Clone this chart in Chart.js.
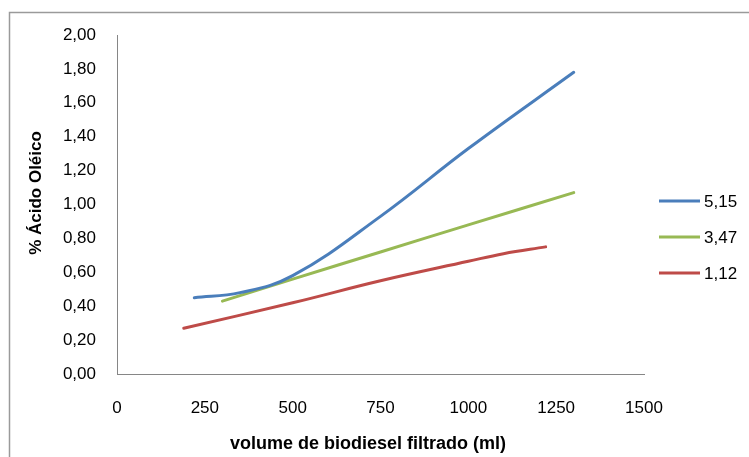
<!DOCTYPE html>
<html>
<head>
<meta charset="utf-8">
<script src="https://cdn.jsdelivr.net/npm/chart.js@4"></script>
<style>
  html, body { margin: 0; padding: 0; background: #fff; }
  #wrap { position: relative; width: 749px; height: 457px; }
</style>
</head>
<body>
<div id="wrap"><canvas id="chart" width="749" height="457"></canvas></div>
<script>
// series
const seriesLabels = ['5,15', '3,47', '1,12'];
const seriesColors = ['#4a7ebb', '#98b954', '#be4b48'];

const blueX = [220, 350, 500, 750, 1000, 1300];
const blueY = [0.45, 0.48, 0.58, 0.93, 1.33, 1.78];

const greenX = [300, 500, 750, 1000, 1300];
const greenY = [0.43, 0.56, 0.72, 0.88, 1.07];

const redX = [190, 500, 750, 1000, 1100, 1220];
const redY = [0.27, 0.42, 0.55, 0.665, 0.71, 0.75];

const xTicks = [0, 250, 500, 750, 1000, 1250, 1500];
const yTicks = [0, 0.2, 0.4, 0.6, 0.8, 1.0, 1.2, 1.4, 1.6, 1.8, 2.0];

const xTitle = 'volume de biodiesel filtrado (ml)';
const yTitle = '% Ácido Oléico';

const FONT = "'Liberation Sans', Arial, sans-serif";

function pts(xs, ys) {
    return xs.map((x, i) => ({ x: x, y: ys[i] }));
}

const allX = [blueX, greenX, redX];
const allY = [blueY, greenY, redY];

const datasets = seriesLabels.map((label, i) => ({
    label: label,
    data: pts(allX[i], allY[i]),
    borderColor: seriesColors[i],
    backgroundColor: seriesColors[i],
    borderWidth: 3,
    showLine: true,
    pointRadius: 0,
    tension: 0.4,
    borderCapStyle: 'round'
}));

// outer frame, axis titles and legend placed by hand where Excel put them
const framePlugin = {
    id: 'frame',
    beforeDraw(chart) {
        const ctx = chart.ctx;
        ctx.save();
        ctx.fillStyle = '#fff';
        ctx.fillRect(0, 0, chart.width, chart.height);
        ctx.strokeStyle = '#9a9a9a';
        ctx.lineWidth = 1.5;
        ctx.strokeRect(9.5, 12.5, 900, 600);
        ctx.restore();
    },
    afterDraw(chart) {
        const ctx = chart.ctx;
        ctx.save();
        ctx.fillStyle = '#000';
        ctx.textAlign = 'center';
        ctx.textBaseline = 'middle';
        ctx.font = 'bold 18px ' + FONT;
        ctx.fillText(xTitle, 368, 444);
        ctx.translate(36, 193);
        ctx.rotate(-Math.PI / 2);
        ctx.font = 'bold 17px ' + FONT;
        ctx.fillText(yTitle, 0, 0);
        ctx.restore();

        ctx.save();
        ctx.font = '17px ' + FONT;
        ctx.textBaseline = 'middle';
        ctx.textAlign = 'left';
        chart.data.datasets.forEach((ds, i) => {
            const y = 201 + i * 36;
            ctx.strokeStyle = ds.borderColor;
            ctx.lineWidth = 3;
            ctx.beginPath();
            ctx.moveTo(659, y);
            ctx.lineTo(700, y);
            ctx.stroke();
            ctx.fillStyle = '#000';
            ctx.fillText(ds.label, 704, y + 1);
        });
        ctx.restore();
    }
};

new Chart(document.getElementById('chart'), {
    type: 'scatter',
    data: { datasets: datasets },
    options: {
        responsive: false,
        animation: false,
        layout: { padding: { left: 0, top: 35, right: 105, bottom: 0 } },
        plugins: {
            legend: { display: false },
            tooltip: { enabled: false }
        },
        scales: {
            x: {
                type: 'linear',
                min: 0,
                max: 1500,
                afterBuildTicks: s => { s.ticks = xTicks.map(v => ({ value: v })); },
                afterFit: s => { s.height = 83; },
                grid: { display: false, drawTicks: false },
                border: { color: '#868686', width: 1 },
                ticks: {
                    color: '#000',
                    font: { family: FONT, size: 17 },
                    padding: 24,
                    maxRotation: 0,
                    callback: v => String(v)
                }
            },
            y: {
                min: 0,
                max: 2,
                afterBuildTicks: s => { s.ticks = yTicks.map(v => ({ value: v })); },
                afterFit: s => { s.width = 117; },
                grid: { display: false, drawTicks: false },
                border: { color: '#868686', width: 1 },
                ticks: {
                    color: '#000',
                    font: { family: FONT, size: 17 },
                    padding: 21,
                    callback: v => v.toFixed(2).replace('.', ',')
                }
            }
        }
    },
    plugins: [framePlugin]
});
</script>
</body>
</html>
